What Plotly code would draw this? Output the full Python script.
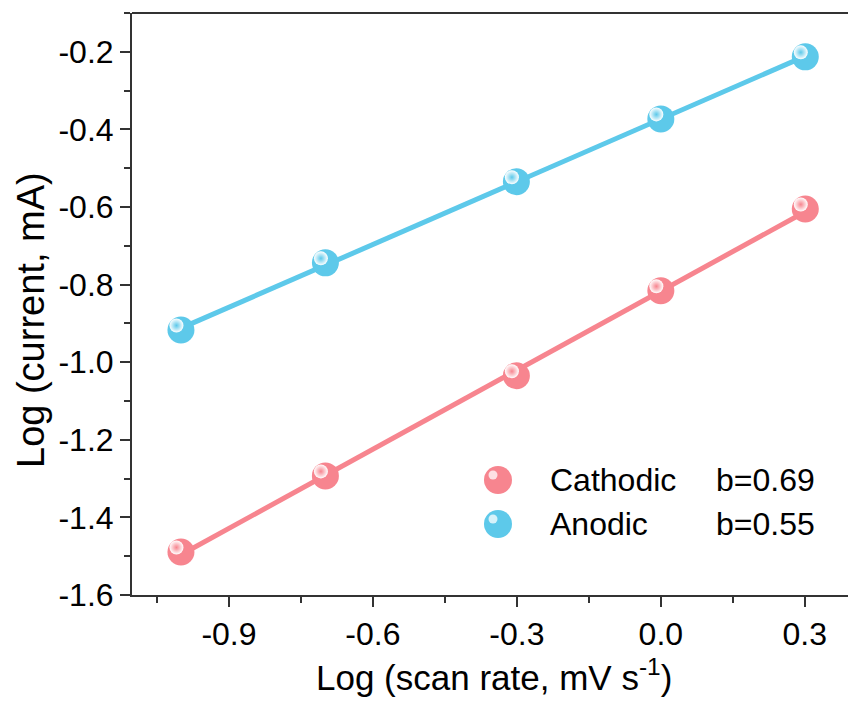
import numpy as np
import plotly.graph_objects as go

# ---- data ----
scan_log = [-1.0, -0.699, -0.301, 0.0, 0.301]
cathodic = [-1.489, -1.293, -1.035, -0.816, -0.605]
anodic = [-0.917, -0.744, -0.535, -0.373, -0.213]
series_names = ["Cathodic", "Anodic"]
b_values = ["b=0.69", "b=0.55"]
x_ticks = [-0.9, -0.6, -0.3, 0.0, 0.3]
y_ticks = [-1.6, -1.4, -1.2, -1.0, -0.8, -0.6, -0.4, -0.2]

PINK = "#F7858F"
BLUE = "#5DC9EA"
FONT = "Liberation Sans, Arial, sans-serif"

W, H = 848, 704
ML, MR, MT, MB = 132, 0, 13, 109
PW, PH = W - ML - MR, H - MT - MB
XR = [-1.102, 0.39]
YR = [-1.6, -0.1]
px_x = PW / (XR[1] - XR[0])
px_y = PH / (YR[1] - YR[0])


def px2paper(x, y):
    return (x - ML) / PW, (H - MB - y) / PH


fig = go.Figure()
for ys, col in [(cathodic, PINK), (anodic, BLUE)]:
    xs = np.array(scan_log)
    k, c = np.polyfit(xs, np.array(ys), 1)
    xf = np.array([xs.min(), xs.max()])
    fig.add_trace(go.Scatter(x=xf, y=k * xf + c, mode="lines",
                             line=dict(color=col, width=5), showlegend=False, hoverinfo="skip"))
    fig.add_trace(go.Scatter(x=xs, y=ys, mode="markers",
                             marker=dict(size=27, color=col, line=dict(width=0)),
                             showlegend=False))
    # glossy highlight
    fig.add_trace(go.Scatter(x=xs - 4.5 / px_x, y=np.array(ys) + 4.5 / px_y, mode="markers",
                             marker=dict(size=14, color="rgba(255,255,255,1)",
                                         gradient=dict(type="radial", color="rgba(255,255,255,0)"),
                                         line=dict(width=0)),
                             showlegend=False, hoverinfo="skip"))

# legend (manual)
leg_y = [480, 524]
for i, (name, bv, col) in enumerate(zip(series_names, b_values, [PINK, BLUE])):
    cy = leg_y[i]
    x0, y1 = px2paper(498 - 14, cy - 14)
    x1, y0 = px2paper(498 + 14, cy + 14)
    fig.add_shape(type="circle", xref="paper", yref="paper", x0=x0, x1=x1, y0=y0, y1=y1,
                  fillcolor=col, line=dict(width=0))
    x0, y1 = px2paper(493 - 4.5, cy - 5 - 4.5)
    x1, y0 = px2paper(493 + 4.5, cy - 5 + 4.5)
    fig.add_shape(type="circle", xref="paper", yref="paper", x0=x0, x1=x1, y0=y0, y1=y1,
                  fillcolor="rgba(255,255,255,0.75)", line=dict(width=0))
    tx, ty = px2paper(548, cy)
    fig.add_annotation(xref="paper", yref="paper", x=tx, y=ty, text=name, showarrow=False,
                       xanchor="left", yanchor="middle", font=dict(size=32, color="black", family=FONT))
    tx, ty = px2paper(714, cy)
    fig.add_annotation(xref="paper", yref="paper", x=tx, y=ty, text=bv, showarrow=False,
                       xanchor="left", yanchor="middle", font=dict(size=32, color="black", family=FONT))

# axis titles
tx, ty = px2paper(494, 675)
fig.add_annotation(xref="paper", yref="paper", x=tx, y=ty, text="Log (scan rate, mV s<sup>-1</sup>)",
                   showarrow=False, xanchor="center", yanchor="middle",
                   font=dict(size=35, color="black", family=FONT))
tx, ty = px2paper(31, 320)
fig.add_annotation(xref="paper", yref="paper", x=tx, y=ty, text="Log (current, mA)", textangle=-90,
                   showarrow=False, xanchor="center", yanchor="middle",
                   font=dict(size=38, color="black", family=FONT))

axis_common = dict(showgrid=False, zeroline=False, showline=True, linecolor="#333333", linewidth=2,
                   ticks="outside", ticklen=10, tickwidth=1.5, tickcolor="#333333",
                   tickfont=dict(size=32, family=FONT, color="black"))
fig.update_xaxes(range=XR, tickvals=x_ticks, ticktext=[f"{v:.1f}" for v in x_ticks],
                 minor=dict(tickvals=[-1.05, -0.75, -0.45, -0.15, 0.15], ticks="outside", ticklen=6,
                            tickwidth=1.5, tickcolor="#333333"),
                 **axis_common)
fig.update_yaxes(range=YR, tickvals=y_ticks, ticktext=[f"{v:.1f}" for v in y_ticks],
                 minor=dict(tickvals=[-1.5, -1.3, -1.1, -0.9, -0.7, -0.5, -0.3, -0.1], ticks="outside", ticklen=6,
                            tickwidth=1.5, tickcolor="#333333"),
                 **axis_common)
# top border line
fig.add_shape(type="line", xref="paper", yref="paper", x0=0, x1=1, y0=1, y1=1,
              line=dict(color="#333333", width=2))

fig.update_layout(width=W, height=H, margin=dict(l=ML, r=MR, t=MT, b=MB),
                  plot_bgcolor="white", paper_bgcolor="white", showlegend=False,
                  font=dict(family=FONT))
fig.write_html("out.html")
